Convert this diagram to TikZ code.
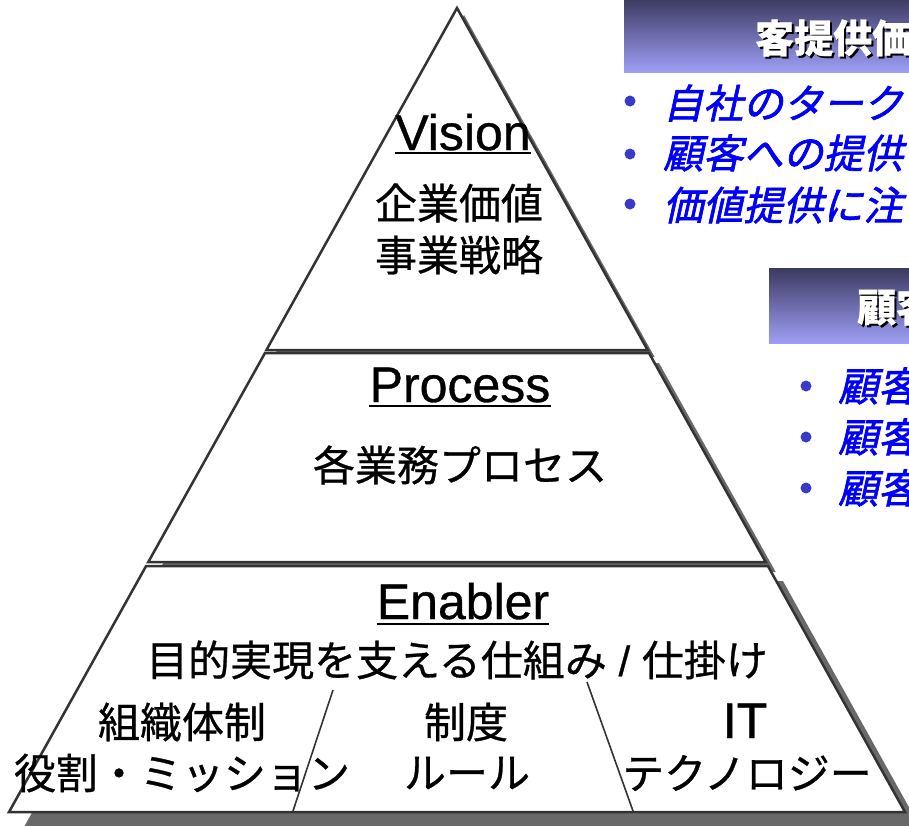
\documentclass[tikz,border=0pt]{standalone}
\usepackage{fontspec}
\setmainfont[FakeBold=0.7]{Noto Sans CJK JP}
\newfontfamily\lat[FakeBold=0.7]{Liberation Sans}
\newfontfamily\jpit[FakeSlant=0.22,FakeBold=1.6]{Noto Sans CJK JP}
\definecolor{edgecol}{RGB}{51,51,51}
\definecolor{shadowcol}{RGB}{105,105,105}
\definecolor{bantop}{RGB}{58,58,96}
\definecolor{banbot}{RGB}{158,158,246}
\definecolor{bulletcol}{RGB}{58,58,200}
\definecolor{bluetext}{RGB}{0,0,250}
\tikzset{
  piece/.style={draw=edgecol, line width=2.5pt, fill=white, line join=miter},
  shade piece/.style={fill=shadowcol},
  divline/.style={draw=edgecol, line width=1.6pt},
  jp/.style={font=\fontsize{42}{48}\selectfont, inner sep=0pt, text=black},
  ttl/.style={font=\lat\fontsize{50}{56}\selectfont, inner sep=0pt, anchor=base, text=black},
  uline/.style={draw=black, line width=2pt},
  bantext/.style={font=\bfseries\fontsize{39}{44}\selectfont, inner sep=0pt, anchor=west, text=white},
  banshadow/.style={font=\bfseries\fontsize{39}{44}\selectfont, inner sep=0pt, anchor=west, text=black},
  bul/.style={font=\jpit\fontsize{40}{46}\selectfont, inner sep=0pt, anchor=west, text=bluetext},
}
\begin{document}
\begin{tikzpicture}[x=1pt,y=-1pt]
\clip (0,0) rectangle (909,825);
\fill[white] (0,0) rectangle (909,825);

% ---- top triangle ----
\fill[shade piece] (464,15) -- (654.6,357) -- (273.4,357) -- cycle;
\path[piece] (457,8) -- (647.6,350) -- (266.4,350) -- cycle;
% ---- middle trapezoid ----
\fill[shade piece] (275,363) -- (659,363) -- (775.7,572) -- (158.3,572) -- cycle;
\path[piece] (265,353) -- (649,353) -- (765.7,562) -- (148.3,562) -- cycle;
% ---- bottom trapezoid ----
\fill[shade piece] (161.1,581) -- (782.9,581) -- (920,827) -- (24,827) -- cycle;
\path[piece] (146.1,566) -- (767.9,566) -- (905,812) -- (9,812) -- cycle;

% internal dividers of the bottom part
\coordinate (d1t) at (333,690);
\coordinate (d1b) at (293,811);
\coordinate (d2t) at (587,682);
\coordinate (d2b) at (633,811);
\draw[divline] (d1t) -- (d1b);
\draw[divline] (d2t) -- (d2b);

% ---- texts in the pyramid ----
\node[ttl] (vis) at (463,150) {Vision};
\draw[uline] ([yshift=-3pt]vis.base west) -- ([yshift=-3pt]vis.base east);
\node[jp] (v1) at (459,203) {企業価値};
\node[jp] (v2) at (459,255) {事業戦略};

\node[ttl] (pro) at (460,402) {Process};
\draw[uline] ([yshift=-4pt]pro.base west) -- ([yshift=-4pt]pro.base east);
\node[jp] (p1) at (460,465) {各業務プロセス};

\node[ttl] (ena) at (463,619) {Enabler};
\draw[uline] ([yshift=-5pt]ena.base west) -- ([yshift=-5pt]ena.base east);
\node[jp] (e1) at (457,660) {目的実現を支える仕組み{\lat\ /\ }仕掛け};

\node[jp] (o1) at (182,722) {組織体制};
\node[jp] (o2) at (182,773) {役割・ミッション};
\node[jp] (r1) at (466,722) {制度};
\node[jp] (r2) at (467,773) {ルール};
\node[ttl] (it1) at (745,738) {IT};
\node[jp] (it2) at (747,773) {テクノロジー};

% ---- banner 1 ----
\shade[top color=bantop, bottom color=banbot] (624,-2) rectangle (915,72);
\node[banshadow] (b1s) at (757,40) {客提供価};
\node[bantext] (b1) at (755,38) {客提供価};

\fill[bulletcol] (630,101) circle (5.5);
\fill[bulletcol] (630,154) circle (5.5);
\fill[bulletcol] (630,204) circle (5.5);
\node[bul] (t11) at (663,103) {自社のターク};
\node[bul] (t12) at (663,153) {顧客への提供};
\node[bul] (t13) at (663,205) {価値提供に注};

% ---- banner 2 ----
\shade[top color=bantop, bottom color=banbot] (769,268) rectangle (915,343);
\node[banshadow] (b2s) at (859,309) {顧客};
\node[bantext] (b2) at (857,307) {顧客};

\fill[bulletcol] (806,386) circle (5.5);
\fill[bulletcol] (806,437) circle (5.5);
\fill[bulletcol] (806,488) circle (5.5);
\node[bul] (t21) at (838,386) {顧客};
\node[bul] (t22) at (838,437) {顧客};
\node[bul] (t23) at (838,488) {顧客};
\end{tikzpicture}
\end{document}
